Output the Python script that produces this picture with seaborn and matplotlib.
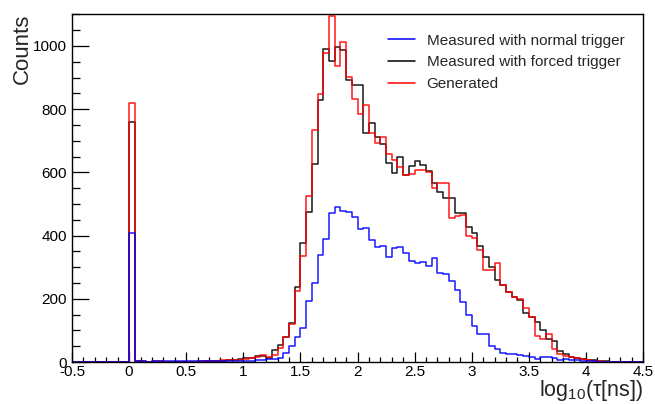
import numpy as np
import pandas as pd
import matplotlib
matplotlib.use("Agg")
import matplotlib.pyplot as plt
import seaborn as sns
from matplotlib.lines import Line2D
from matplotlib.ticker import MultipleLocator, FuncFormatter

# ---------------- data (100 bins of width 0.05 from -0.5 to 4.5) ----------------
bin_lo, bin_hi, n_bins = -0.5, 4.5, 100

series_names = ["Measured with normal trigger", "Measured with forced trigger", "Generated"]

# counts for bins -0.5 .. 0.0 are empty
empty_below_zero = [0] * 10
empty_above = [0] * 6   # bins 4.2 .. 4.5

normal_trigger = (empty_below_zero + [
    407,
    4, 2, 1, 2, 3, 3, 2, 2, 2, 2, 2, 2, 2, 2, 2, 3, 3,
    3, 3, 4, 4, 5, 7, 8, 10, 14, 28, 50, 78,
    107, 192, 250, 339, 388, 470, 489, 478, 473, 460,
    421, 425, 386, 363, 367, 333, 360, 363, 344, 320,
    314, 317, 303, 330, 281, 278, 255, 229, 191, 149,
    113, 89, 88, 50, 42, 27, 25, 25, 22, 19,
    15, 9, 17, 17, 12, 6, 8, 6, 5, 4,
    3, 2, 1, 1,
] + empty_above)

forced_trigger = (empty_below_zero + [
    758,
    3, 1, 1, 1, 1, 1, 1, 1, 1, 1, 1, 1, 2, 2, 3, 4, 5,
    5, 8, 12, 12, 18, 18, 12, 38, 55, 80, 122, 238,
    375, 476, 628, 829, 990, 953, 996, 987, 892, 875,
    875, 726, 757, 713, 690, 631, 597, 650, 592, 620,
    637, 622, 603, 565, 537, 520, 520, 470, 470, 426,
    407, 367, 333, 302, 259, 244, 223, 205, 196, 154,
    141, 126, 101, 72, 66, 36, 25, 16, 13, 10,
    7, 5, 3, 2,
] + empty_above)

generated = (empty_below_zero + [
    820,
    4, 2, 1, 2, 2, 1, 1, 1, 1, 1, 1, 2, 2, 3, 4, 6, 5,
    5, 6, 8, 12, 15, 22, 15, 22, 45, 80, 120, 225,
    335, 526, 734, 848, 979, 1095, 937, 1013, 901, 832,
    784, 812, 726, 692, 711, 657, 639, 618, 592, 595,
    608, 608, 602, 550, 567, 567, 455, 462, 465, 400,
    391, 354, 291, 291, 312, 244, 223, 207, 198, 172,
    143, 82, 72, 88, 40, 25, 20, 15, 14, 10,
    7, 4, 2, 1,
] + empty_above)

x_ticks_fmt = "%g"
x_label = r"log$_\mathrm{10}$(τ[ns])"
y_label = "Counts"

# ---------------- style ----------------
sns.set_style("ticks")
plt.rcParams["font.family"] = ["Liberation Sans", "DejaVu Sans"]
plt.rcParams["axes.unicode_minus"] = False
plt.rcParams["mathtext.fontset"] = "custom"
plt.rcParams["mathtext.rm"] = "Liberation Sans"
plt.rcParams["mathtext.it"] = "Liberation Sans:italic"

colors = {
    "Measured with normal trigger": "#0000ff",
    "Measured with forced trigger": "#000000",
    "Generated": "#ff0000",
}
values = {
    "Measured with normal trigger": normal_trigger,
    "Measured with forced trigger": forced_trigger,
    "Generated": generated,
}

edges = np.linspace(bin_lo, bin_hi, n_bins + 1)
centers = 0.5 * (edges[:-1] + edges[1:])

fig = plt.figure(figsize=(6.55, 4.04), dpi=100)
ax = fig.add_axes([72 / 655, 42 / 404, 571 / 655, 348 / 404])

draw_order = ["Measured with forced trigger", "Generated", "Measured with normal trigger"]
for name in draw_order:
    df = pd.DataFrame({"x": centers, "w": np.asarray(values[name], dtype=float)})
    sns.histplot(data=df, x="x", weights="w", bins=[float(e) for e in edges],
                 element="step", fill=False, color=colors[name], linewidth=1.1,
                 alpha=0.9, ax=ax)

ax.set_xlim(bin_lo, bin_hi)
ax.set_ylim(0, 1101)

for sp in ax.spines.values():
    sp.set_visible(True)
    sp.set_color("black")
    sp.set_linewidth(1.0)

ax.xaxis.set_major_locator(MultipleLocator(0.5))
ax.xaxis.set_minor_locator(MultipleLocator(0.1))
ax.yaxis.set_major_locator(MultipleLocator(200))
ax.yaxis.set_minor_locator(MultipleLocator(50))
ax.xaxis.set_major_formatter(FuncFormatter(lambda v, p: x_ticks_fmt % v))
ax.yaxis.set_major_formatter(FuncFormatter(lambda v, p: "%d" % v))

ax.tick_params(which="both", direction="in", top=False, right=False, colors="black",
               labelsize=11, width=0.9)
ax.tick_params(axis="x", which="major", length=7.2, pad=2)
ax.tick_params(axis="x", which="minor", length=3.6)
ax.tick_params(axis="y", which="major", length=12.3, pad=3.5)
ax.tick_params(axis="y", which="minor", length=6.1)

ax.set_xlabel(x_label, fontsize=15.5, loc="right")
ax.xaxis.set_label_coords(1.0, -0.047)
ax.set_ylabel(y_label, fontsize=16, loc="top")
ax.yaxis.set_label_coords(-0.068, 1.0)

handles = [Line2D([0], [0], color=colors[n], lw=1.1) for n in series_names]
ax.legend(handles, series_names, loc="upper left", bbox_to_anchor=(0.553, 0.943),
          frameon=False, fontsize=11, handlelength=1.8, handletextpad=0.75,
          labelspacing=0.5, borderpad=0, borderaxespad=0)

fig.savefig("out.png", dpi=100)
